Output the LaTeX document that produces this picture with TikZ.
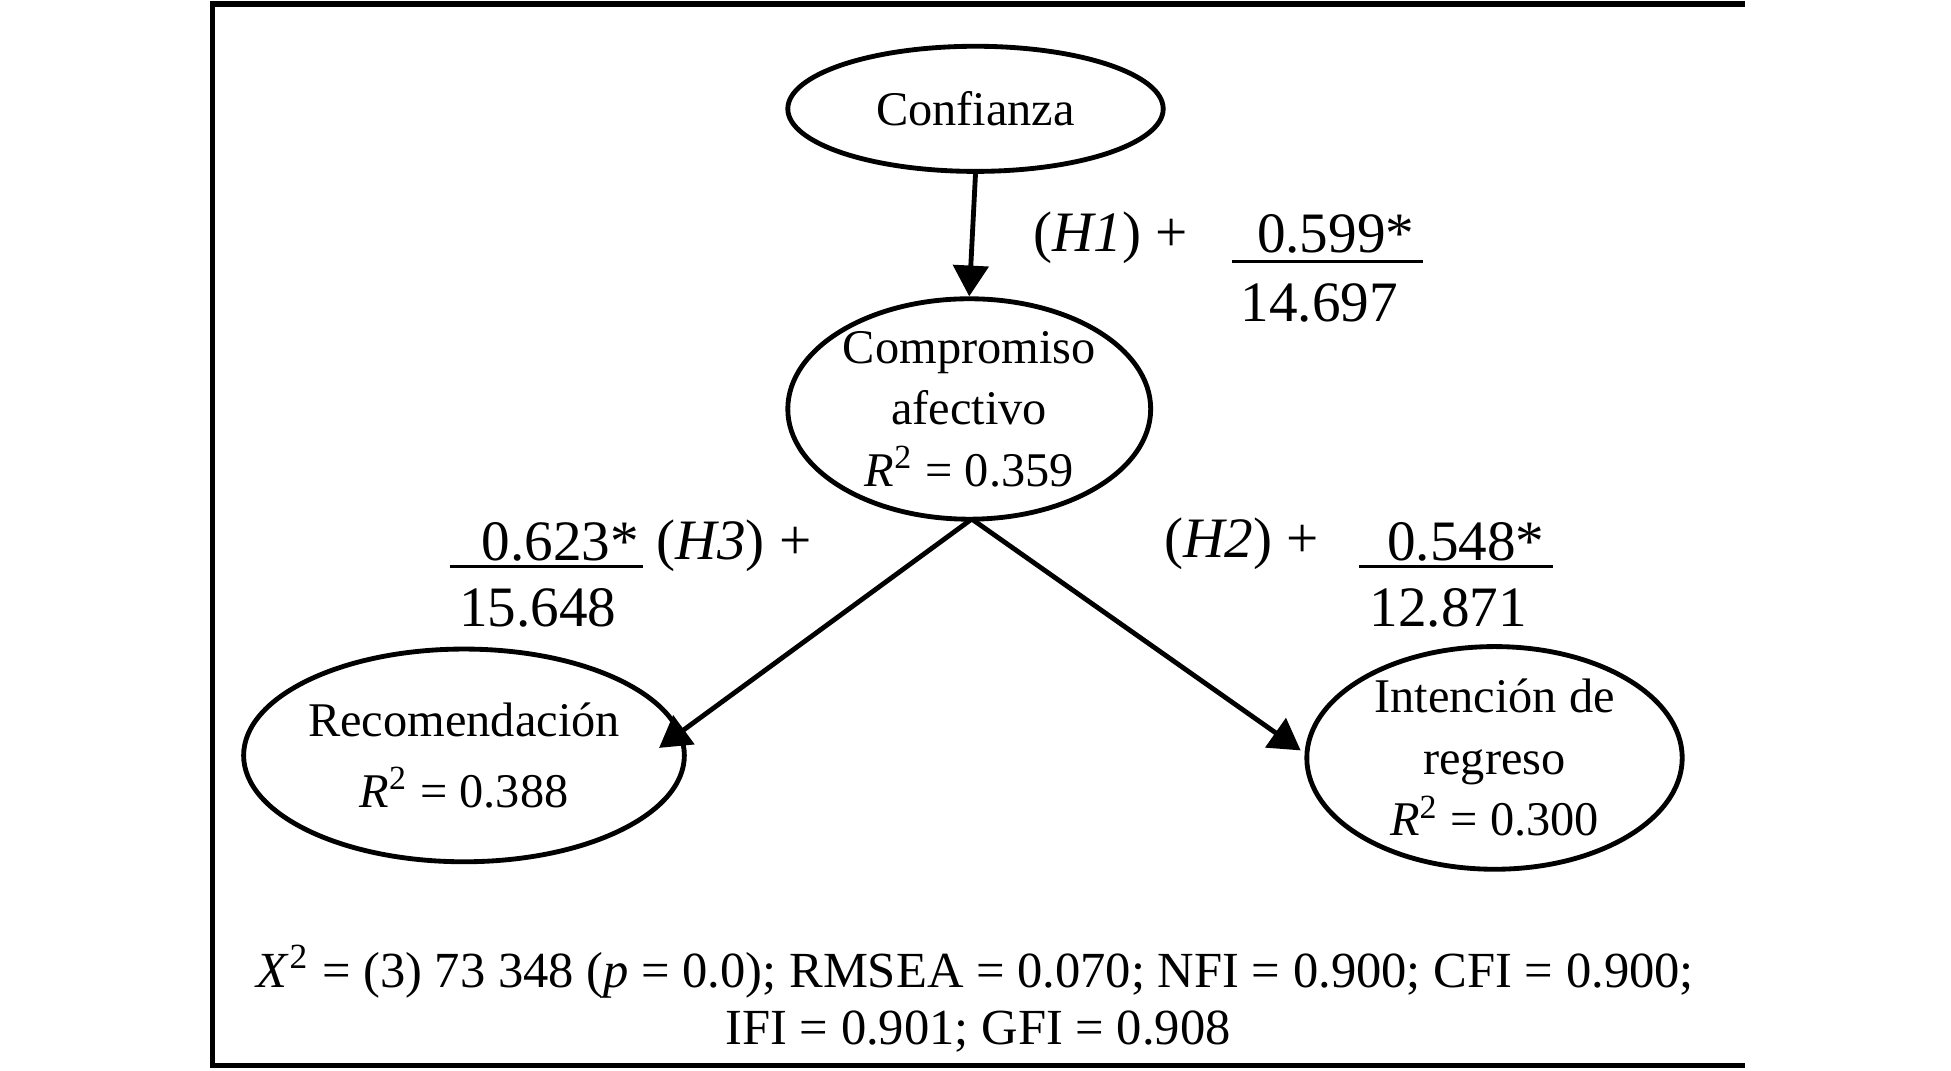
\documentclass[tikz,border=0pt]{standalone}
\usepackage{fontspec}
\setmainfont{Liberation Serif}
\usetikzlibrary{shapes.geometric,arrows.meta}
\begin{document}
\begin{tikzpicture}[x=0.01cm,y=-0.01cm,
  ell/.style={draw,line width=1.1pt,ellipse,inner sep=0pt,font=\fontsize{11}{14}\selectfont,align=center},
  arr/.style={line width=1.1pt,-{Triangle[length=7pt,width=8pt]}},
  num/.style={font=\fontsize{13}{16}\selectfont},
  lbl/.style={font=\fontsize{13}{16}\selectfont},
  foot/.style={font=\fontsize{11.5}{14}\selectfont}]
\useasboundingbox (0,0) rectangle (1560,856);
\draw[line width=1.3pt] (1395,3) -- (170,3) -- (170,852) -- (1395,852);
\node[ell,minimum width=3cm,minimum height=1cm] (conf) at (780,87) {Confianza};
\node[ell,minimum width=2.9cm,minimum height=1.6cm] (comp) at (775,327) {Compromiso\\afectivo\\\textit{R}\textsuperscript{2} = 0.359};
\node[ell,minimum width=3cm,minimum height=1.7cm] (rec) at (371,604) {Recomendación\\[2pt]\textit{R}\textsuperscript{2} = 0.388};
\node[ell,minimum width=3cm,minimum height=1.66cm] (int) at (1195,606) {Intención de\\regreso\\\textit{R}\textsuperscript{2} = 0.300};
\coordinate (cb) at (777,415);
\coordinate (rt) at (527,598);
\coordinate (it) at (1040,600);
\draw[arr] (conf.south) -- (comp.north);
\draw[arr] (cb) -- (rt);
\draw[arr] (cb) -- (it);
\node[lbl] (h1) at (888,190) {(\textit{H1}) +};
\node[num] (n1) at (1068,187) {0.599*};
\draw[line width=0.8pt] (985,209) -- (1138,209);
\node[num] (d1) at (1055,242) {14.697};
\node[num] (n3) at (448,433) {0.623*};
\draw[line width=0.8pt] (360,453) -- (514,453);
\node[num] (d3) at (430,486) {15.648};
\node[lbl] (h3) at (587,436) {(\textit{H3}) +};
\node[lbl] (h2) at (993,435) {(\textit{H2}) +};
\node[num] (n2) at (1172,433) {0.548*};
\draw[line width=0.8pt] (1087,453) -- (1242,453);
\node[num] (d2) at (1158,486) {12.871};
\node[foot] (f1) at (780,777) {\textit{X}\textsuperscript{2} = (3) 73 348 (\textit{p} = 0.0); RMSEA = 0.070; NFI = 0.900; CFI = 0.900;};
\node[foot] (f2) at (782,825) {IFI = 0.901; GFI = 0.908};
\end{tikzpicture}
\end{document}
